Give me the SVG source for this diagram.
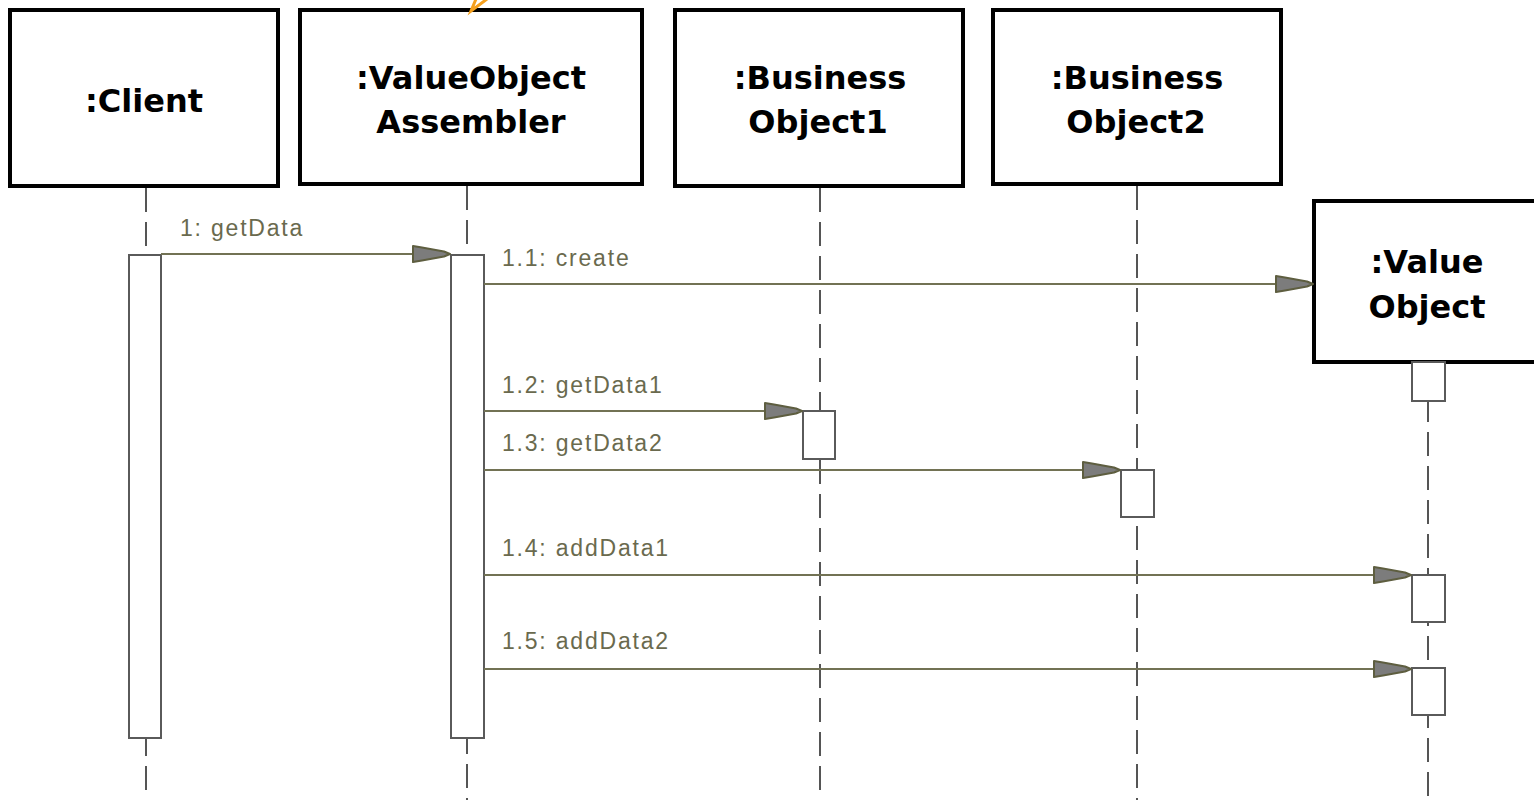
<svg xmlns="http://www.w3.org/2000/svg" width="1534" height="800" viewBox="0 0 1534 800">
  <style>
    .obj { fill: #ffffff; stroke: #000000; stroke-width: 4; }
    .name { font-family: "DejaVu Sans", Verdana, sans-serif; font-weight: bold; font-size: 32px; fill: #000000; text-anchor: middle; }
    .life { stroke: #555555; stroke-width: 2; stroke-dasharray: 24 10; fill: none; }
    .act { fill: #ffffff; stroke: #5a5a5a; stroke-width: 2; }
    .msg { stroke: #727254; stroke-width: 2.2; fill: none; marker-end: url(#head); }
    .lbl { font-family: "Liberation Sans", Arial, sans-serif; font-size: 23px; letter-spacing: 1.8px; fill: #6a6a4e; }
  </style>
  <defs>
    <marker id="head" markerUnits="userSpaceOnUse" viewBox="-42 -11 44 22" refX="0" refY="0" markerWidth="44" markerHeight="22" orient="auto">
      <polygon points="-37,-8 -28,-6.5 -6,-2.5 0,0 -6,2.5 -28,6.5 -37,8" fill="#7c7c7c" stroke="#5e5e40" stroke-width="2" stroke-linejoin="round"/>
    </marker>
  </defs>
  <rect width="1534" height="800" fill="#ffffff"/>

  <!-- lifelines -->
  <g id="lifelines">
    <line class="life" x1="146" y1="188" x2="146" y2="800"/>
    <line class="life" x1="467" y1="186" x2="467" y2="800"/>
    <line class="life" x1="820" y1="188" x2="820" y2="800"/>
    <line class="life" x1="1137" y1="186" x2="1137" y2="800"/>
    <line class="life" x1="1428" y1="364" x2="1428" y2="800"/>
  </g>

  <!-- object heads -->
  <g id="client">
    <rect class="obj" x="10" y="10" width="268" height="176"/>
    <text class="name" x="144" y="112">:Client</text>
  </g>
  <g id="assembler">
    <rect class="obj" x="300" y="10" width="342" height="174"/>
    <text class="name" x="471" y="89">:ValueObject</text>
    <text class="name" x="471" y="133">Assembler</text>
  </g>
  <g id="business1">
    <rect class="obj" x="675" y="10" width="288" height="176"/>
    <text class="name" x="820" y="89">:Business</text>
    <text class="name" x="818" y="133">Object1</text>
  </g>
  <g id="business2">
    <rect class="obj" x="993" y="10" width="288" height="174"/>
    <text class="name" x="1137" y="89">:Business</text>
    <text class="name" x="1136" y="133">Object2</text>
  </g>
  <g id="valueobject">
    <rect class="obj" x="1314" y="201" width="240" height="161"/>
    <text class="name" x="1427" y="273">:Value</text>
    <text class="name" x="1427" y="318">Object</text>
  </g>

  <!-- incoming note link at the assembler head -->
  <g id="note-link">
    <polyline points="476,-1 471,11 487,-1" fill="none" stroke="#f5a01e" stroke-width="3" stroke-linejoin="miter"/>
  </g>

  <!-- activation bars -->
  <g id="activations">
    <rect class="act" x="129" y="255" width="32" height="483"/>
    <rect class="act" x="451" y="255" width="33" height="483"/>
    <rect class="act" x="803" y="411" width="32" height="48"/>
    <rect class="act" x="1121" y="470" width="33" height="47"/>
    <rect class="act" x="1412" y="362" width="33" height="39"/>
    <rect class="act" x="1412" y="575" width="33" height="47"/>
    <rect class="act" x="1412" y="668" width="33" height="47"/>
  </g>

  <!-- messages -->
  <g id="connectors">
    <line class="msg" x1="161" y1="254" x2="450" y2="254"/>
    <text class="lbl" x="180" y="236">1: getData</text>
    <line class="msg" x1="484" y1="284" x2="1313" y2="284"/>
    <text class="lbl" x="502" y="266">1.1: create</text>
    <line class="msg" x1="484" y1="411" x2="802" y2="411"/>
    <text class="lbl" x="502" y="393">1.2: getData1</text>
    <line class="msg" x1="484" y1="470" x2="1120" y2="470"/>
    <text class="lbl" x="502" y="451">1.3: getData2</text>
    <line class="msg" x1="484" y1="575" x2="1411" y2="575"/>
    <text class="lbl" x="502" y="556">1.4: addData1</text>
    <line class="msg" x1="484" y1="669" x2="1411" y2="669"/>
    <text class="lbl" x="502" y="649">1.5: addData2</text>
  </g>
</svg>
